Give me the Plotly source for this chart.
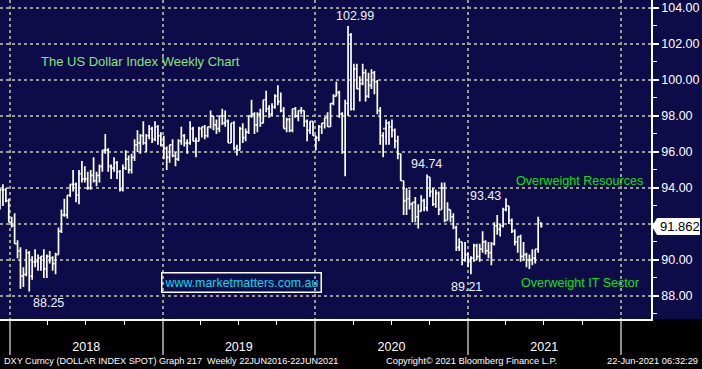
import pandas as pd
import plotly.graph_objects as go

# ---------------- data (weekly DXY bars, week ending Friday) ----------------
first_week = "2017-12-01"

open_2017 = [92.8, 92.9, 93.9, 93.9, 93.3]
high_2017 = [93.3, 93.9, 94.2, 94.0, 93.4]
low_2017 = [92.5, 92.8, 93.0, 93.2, 92.1]
close_2017 = [92.9, 93.9, 93.9, 93.3, 92.1]

open_2018 = [92.1, 91.9, 90.9, 90.5, 89.1, 89.2, 90.4, 89.1, 89.9, 89.9, 90.1, 90.2, 89.5,
             90.2, 90.1, 89.8, 90.3, 91.6, 92.5, 92.5, 93.6, 94.2, 94.2, 93.6, 94.8, 94.5,
             94.5, 94.0, 94.7, 94.4, 94.7, 95.2, 96.1, 96.1, 95.2, 95.1, 95.4, 94.9, 93.9,
             95.1, 95.6, 95.0, 95.7, 96.4, 96.5, 96.9, 96.5, 96.9, 97.3, 96.7, 97.4, 96.9]
high_2018 = [92.4, 92.6, 91.1, 90.7, 89.6, 90.6, 90.5, 90.2, 90.6, 90.3, 90.2, 90.6, 90.3,
             90.5, 90.2, 90.4, 91.8, 92.8, 93.4, 93.6, 94.2, 95.0, 94.3, 95.0, 95.5, 95.2,
             94.9, 95.0, 95.7, 94.9, 95.3, 96.1, 97.0, 96.2, 95.3, 95.7, 95.5, 95.0, 95.3,
             96.1, 95.8, 95.9, 96.7, 97.2, 97.0, 97.7, 97.0, 97.5, 97.4, 97.7, 97.5, 97.1]
low_2018 = [91.8, 90.9, 90.1, 88.4, 88.5, 89.1, 88.25, 88.9, 89.6, 89.4, 89.4, 89.0, 89.0,
            89.8, 89.4, 89.2, 90.3, 91.5, 92.4, 92.3, 93.5, 93.8, 93.2, 93.1, 94.3, 94.3,
            93.9, 93.9, 94.3, 94.1, 94.3, 94.9, 95.9, 94.9, 94.5, 94.9, 94.5, 93.8, 93.8,
            95.0, 94.8, 94.8, 95.5, 96.0, 95.9, 96.4, 96.0, 96.7, 96.5, 96.6, 96.4, 96.3]
close_2018 = [91.9, 90.9, 90.5, 89.1, 89.2, 90.4, 89.1, 89.9, 89.9, 90.1, 90.2, 89.5, 90.2,
              90.1, 89.8, 90.3, 91.6, 92.5, 92.5, 93.6, 94.2, 94.2, 93.6, 94.8, 94.5, 94.5,
              94.0, 94.7, 94.4, 94.7, 95.2, 96.1, 96.1, 95.2, 95.1, 95.4, 94.9, 93.9, 95.1,
              95.6, 95.0, 95.7, 96.4, 96.5, 96.9, 96.5, 96.9, 97.3, 96.7, 97.4, 96.9, 96.4]

open_2019 = [96.4, 96.2, 95.7, 96.4, 95.8, 95.6, 96.6, 96.9, 96.5, 96.5, 97.3, 96.6, 96.6,
             97.3, 97.4, 96.9, 97.4, 98.0, 97.5, 97.3, 98.0, 97.6, 97.7, 96.5, 97.6, 96.2,
             96.1, 97.3, 96.8, 97.1, 98.0, 98.1, 97.5, 98.1, 97.6, 98.9, 98.4, 98.1, 98.5,
             99.1, 98.8, 98.3, 97.3, 97.8, 97.2, 98.4, 98.0, 98.3, 98.3, 97.7, 97.2, 97.7]
high_2019 = [96.9, 96.3, 96.4, 96.7, 96.0, 96.7, 97.4, 97.0, 96.7, 97.7, 97.4, 96.8, 97.4,
             97.4, 97.5, 97.4, 98.3, 98.0, 97.8, 98.0, 98.4, 98.3, 97.8, 97.6, 97.7, 96.4,
             97.4, 97.6, 97.3, 98.0, 98.9, 98.2, 98.2, 98.4, 98.9, 99.4, 98.6, 98.7, 99.2,
             99.7, 99.3, 98.5, 97.9, 97.9, 98.4, 98.5, 98.3, 98.5, 98.3, 97.8, 97.7, 97.7]
low_2019 = [95.6, 95.0, 95.4, 95.7, 95.2, 95.5, 96.4, 96.3, 95.9, 96.4, 96.6, 95.7, 96.6,
            96.8, 96.7, 96.8, 97.3, 97.2, 97.0, 97.1, 97.5, 97.4, 96.5, 96.5, 96.1, 95.8,
            96.1, 96.5, 96.6, 97.0, 97.9, 97.0, 97.1, 97.4, 97.6, 98.2, 97.9, 98.0, 98.4,
            98.6, 98.2, 97.3, 97.1, 97.1, 97.1, 97.9, 97.7, 98.1, 97.4, 96.6, 97.0, 96.9]
close_2019 = [96.2, 95.7, 96.4, 95.8, 95.6, 96.6, 96.9, 96.5, 96.5, 97.3, 96.6, 96.6, 97.3,
              97.4, 96.9, 97.4, 98.0, 97.5, 97.3, 98.0, 97.6, 97.7, 96.5, 97.6, 96.2, 96.1,
              97.3, 96.8, 97.1, 98.0, 98.1, 97.5, 98.1, 97.6, 98.9, 98.4, 98.1, 98.5, 99.1,
              98.8, 98.3, 97.3, 97.8, 97.2, 98.4, 98.0, 98.3, 98.3, 97.7, 97.2, 97.7, 96.9]

open_2020 = [96.9, 96.8, 97.4, 97.6, 97.9, 97.4, 98.7, 99.1, 99.3, 98.1, 96.0, 98.7, 102.5,
             98.4, 100.6, 99.5, 99.8, 100.4, 99.1, 99.7, 100.4, 99.9, 98.3, 96.9, 97.3, 97.6,
             97.4, 97.2, 96.6, 95.9, 94.4, 93.3, 93.4, 93.1, 93.2, 92.4, 92.7, 93.3, 92.9,
             94.6, 93.8, 93.1, 93.7, 92.8, 94.0, 92.2, 92.8, 92.4, 91.8, 90.7, 91.0, 90.0]
high_2020 = [96.9, 97.5, 97.6, 97.9, 98.2, 98.7, 99.2, 99.9, 99.4, 98.2, 98.9, 102.99, 102.6,
             100.9, 100.9, 100.2, 100.9, 100.6, 100.4, 100.6, 100.5, 100.0, 98.5, 97.1, 97.8,
             97.7, 97.8, 97.3, 96.9, 95.9, 94.4, 94.0, 93.9, 93.2, 93.5, 93.1, 93.6, 93.4,
             94.74, 94.6, 94.0, 93.9, 93.8, 94.3, 94.3, 93.2, 92.8, 92.6, 91.9, 91.2, 91.0, 91.0]
low_2020 = [96.1, 96.6, 97.0, 97.3, 97.4, 97.4, 98.6, 99.1, 97.9, 95.9, 94.65, 98.0, 98.3,
            98.3, 99.5, 98.8, 99.7, 98.8, 99.0, 99.5, 99.2, 98.1, 96.4, 95.7, 96.4, 96.4,
            96.8, 96.2, 95.6, 94.4, 92.5, 92.5, 92.8, 92.1, 92.1, 91.75, 92.7, 92.7, 92.7,
            93.5, 93.0, 92.9, 92.5, 92.8, 92.1, 92.2, 92.1, 91.7, 90.5, 90.5, 89.7, 89.9]
close_2020 = [96.8, 97.4, 97.6, 97.9, 97.4, 98.7, 99.1, 99.3, 98.1, 96.0, 98.7, 102.5, 98.4,
              100.6, 99.5, 99.8, 100.4, 99.1, 99.7, 100.4, 99.9, 98.3, 96.9, 97.3, 97.6, 97.4,
              97.2, 96.6, 95.9, 94.4, 93.3, 93.4, 93.1, 93.2, 92.4, 92.7, 93.3, 92.9, 94.6,
              93.8, 93.1, 93.7, 92.8, 94.0, 92.2, 92.8, 92.4, 91.8, 90.7, 91.0, 90.0, 90.3]

open_2021 = [90.3, 89.9, 90.1, 90.8, 90.2, 90.6, 91.0, 90.5, 90.4, 90.9, 91.9, 91.7, 91.9,
             92.8, 93.0, 92.2, 91.6, 91.0, 91.3, 90.2, 90.3, 90.0, 90.0, 90.1, 90.6, 92.05]
high_2021 = [90.4, 90.2, 90.9, 90.9, 90.9, 91.6, 91.1, 91.0, 91.0, 92.1, 92.5, 92.0, 92.9,
             93.43, 93.0, 92.3, 91.7, 91.3, 91.4, 91.0, 90.4, 90.3, 90.6, 90.6, 92.4, 92.1]
low_2021 = [89.6, 89.21, 89.9, 90.0, 89.9, 90.4, 90.3, 90.1, 89.7, 90.8, 91.4, 91.3, 91.8,
            92.7, 92.0, 91.5, 90.8, 90.4, 89.9, 89.98, 89.6, 89.5, 89.7, 89.8, 90.4, 91.8]
close_2021 = [89.9, 90.1, 90.8, 90.2, 90.6, 91.0, 90.5, 90.4, 90.9, 91.9, 91.7, 91.9, 92.8,
              93.0, 92.2, 91.6, 91.0, 91.3, 90.2, 90.3, 90.0, 90.0, 90.1, 90.6, 92.2, 91.862]

y_tick_values = [88, 90, 92, 94, 96, 98, 100, 102, 104]

# Labelled turning points (week-ending dates of the bars they sit on)
peak_labels = [
    ("2020-03-20", "high"),
    ("2018-02-16", "low"),
    ("2020-09-25", "high"),
    ("2021-04-02", "high"),
    ("2021-01-08", "low"),
]

# ---------------- assemble ----------------
opens = open_2017 + open_2018 + open_2019 + open_2020 + open_2021
highs = high_2017 + high_2018 + high_2019 + high_2020 + high_2021
lows = low_2017 + low_2018 + low_2019 + low_2020 + low_2021
closes = close_2017 + close_2018 + close_2019 + close_2020 + close_2021
dates = pd.date_range(first_week, periods=len(closes), freq="W-FRI")
df = pd.DataFrame({"open": opens, "high": highs, "low": lows, "close": closes}, index=dates)
last_close = df["close"].iloc[-1]

NAVY = "#0e0c48"
GRID = "#9a9a9a"
FONT = "Liberation Sans, Arial, sans-serif"

fig = go.Figure()
fig.add_trace(go.Ohlc(
    x=df.index, open=df["open"], high=df["high"], low=df["low"], close=df["close"],
    increasing=dict(line=dict(color="white", width=1.7)),
    decreasing=dict(line=dict(color="white", width=1.7)),
    tickwidth=0.45, hoverinfo="skip", showlegend=False,
))

fig.update_layout(
    width=702, height=369,
    margin=dict(l=0, r=51, t=0, b=50, autoexpand=False),
    paper_bgcolor=NAVY, plot_bgcolor=NAVY,
    font=dict(family=FONT, color="white"),
    showlegend=False,
)

fig.update_xaxes(
    type="date", range=["2017-12-08", "2022-03-15"], automargin=False,
    rangeslider=dict(visible=False),
    tick0="2018-01-01", dtick="M12", tickformat="%Y", ticklabelmode="period",
    ticks="outside", ticklen=34, tickcolor="#8c8c8c", tickwidth=1.5,
    ticklabelstandoff=-19,
    tickfont=dict(size=12.5, color="white", family=FONT),
    showgrid=True, gridcolor=GRID, griddash="dot", gridwidth=1.5,
    showline=True, linecolor="white", linewidth=2, zeroline=False,
    minor=dict(tick0="2018-01-01", dtick="M3", ticks="outside", ticklen=4,
               tickcolor="white", tickwidth=1, showgrid=False),
)

# the tick label hidden behind the last-price box is left blank
y_tick_text = ["" if abs(v - last_close) < 0.6 else f"{v:.2f}" for v in y_tick_values]
fig.update_yaxes(
    side="right", range=[86.72, 104.44], automargin=False,
    tickmode="array", tickvals=y_tick_values, ticktext=y_tick_text,
    ticks="outside", ticklen=6, tickcolor="white", tickwidth=1.5,
    tickfont=dict(size=12.5, color="white", family=FONT),
    showgrid=True, gridcolor=GRID, griddash="dot", gridwidth=1.5,
    showline=True, linecolor="white", linewidth=1.5, zeroline=False,
    minor=dict(tickmode="linear", tick0=87, dtick=1, ticks="outside", ticklen=4,
               tickcolor="white", tickwidth=1, showgrid=False),
)

# black band under the plot area
fig.add_shape(type="rect", xref="paper", yref="paper", x0=-0.01, x1=1.09, y0=-0.2, y1=0,
              fillcolor="black", line=dict(width=0), layer="below")

# last price marker on the axis
fig.add_shape(type="path", xref="paper", yref="y", xsizemode="pixel", ysizemode="pixel",
              xanchor=1, yanchor=last_close,
              path="M1,0 L6,-8.5 L49,-8.5 L49,8.5 L6,8.5 Z",
              fillcolor="white", line=dict(width=0))
fig.add_annotation(x=1, xref="paper", y=last_close, yref="y", text=f"{last_close:.3f}",
                   showarrow=False, xanchor="left", yanchor="middle", xshift=7,
                   font=dict(size=13, color="black", family=FONT))

# turning-point value labels
label_style = {
    "2020-03-20": dict(xanchor="center", yanchor="bottom", xshift=7, yshift=1),
    "2018-02-16": dict(xanchor="center", yanchor="top", xshift=19, yshift=-3),
    "2020-09-25": dict(xanchor="center", yanchor="bottom", xshift=-1, yshift=2),
    "2021-04-02": dict(xanchor="right", yanchor="middle", xshift=-3, yshift=2),
    "2021-01-08": dict(xanchor="center", yanchor="top", xshift=-4, yshift=-4),
}
for d, field in peak_labels:
    v = df.loc[pd.Timestamp(d), field]
    fig.add_annotation(x=d, y=v, text=f"{v:.2f}", showarrow=False,
                       font=dict(size=12.5, color="#eef2ff", family=FONT),
                       **label_style[d])


def px_note(px, py, text, size, color, xanchor="center", **kw):
    fig.add_annotation(x=px / 651, y=(319 - py) / 319, xref="paper", yref="paper",
                       xanchor=xanchor, yanchor="middle", text=text, showarrow=False,
                       font=dict(size=size, color=color, family=FONT), **kw)


# chart texts
px_note(140, 61, "The US Dollar Index Weekly Chart", 13, "#86e47c")
px_note(579, 181, "Overweight Resources", 12.6, "#10e010")
px_note(580, 283, "Overweight IT Sector", 12.6, "#10e010")
px_note(241, 282, "www.marketmatters.com.au", 12.4, "#00dcea",
        bordercolor="white", borderwidth=1.5, borderpad=2)

# footer
px_note(2, 361, "DXY Curncy (DOLLAR INDEX SPOT) Graph 217  Weekly 22JUN2016-22JUN2021",
        9.1, "white", xanchor="left")
px_note(384, 361, "Copyright\u00a9 2021 Bloomberg Finance L.P.", 9.3, "white", xanchor="left")
px_note(700, 361, "22-Jun-2021 06:32:29", 9.3, "white", xanchor="right")

fig.write_html("out.html", config={"displayModeBar": False},
               post_script="document.body.style.margin='0px';document.body.style.overflow='hidden';")
